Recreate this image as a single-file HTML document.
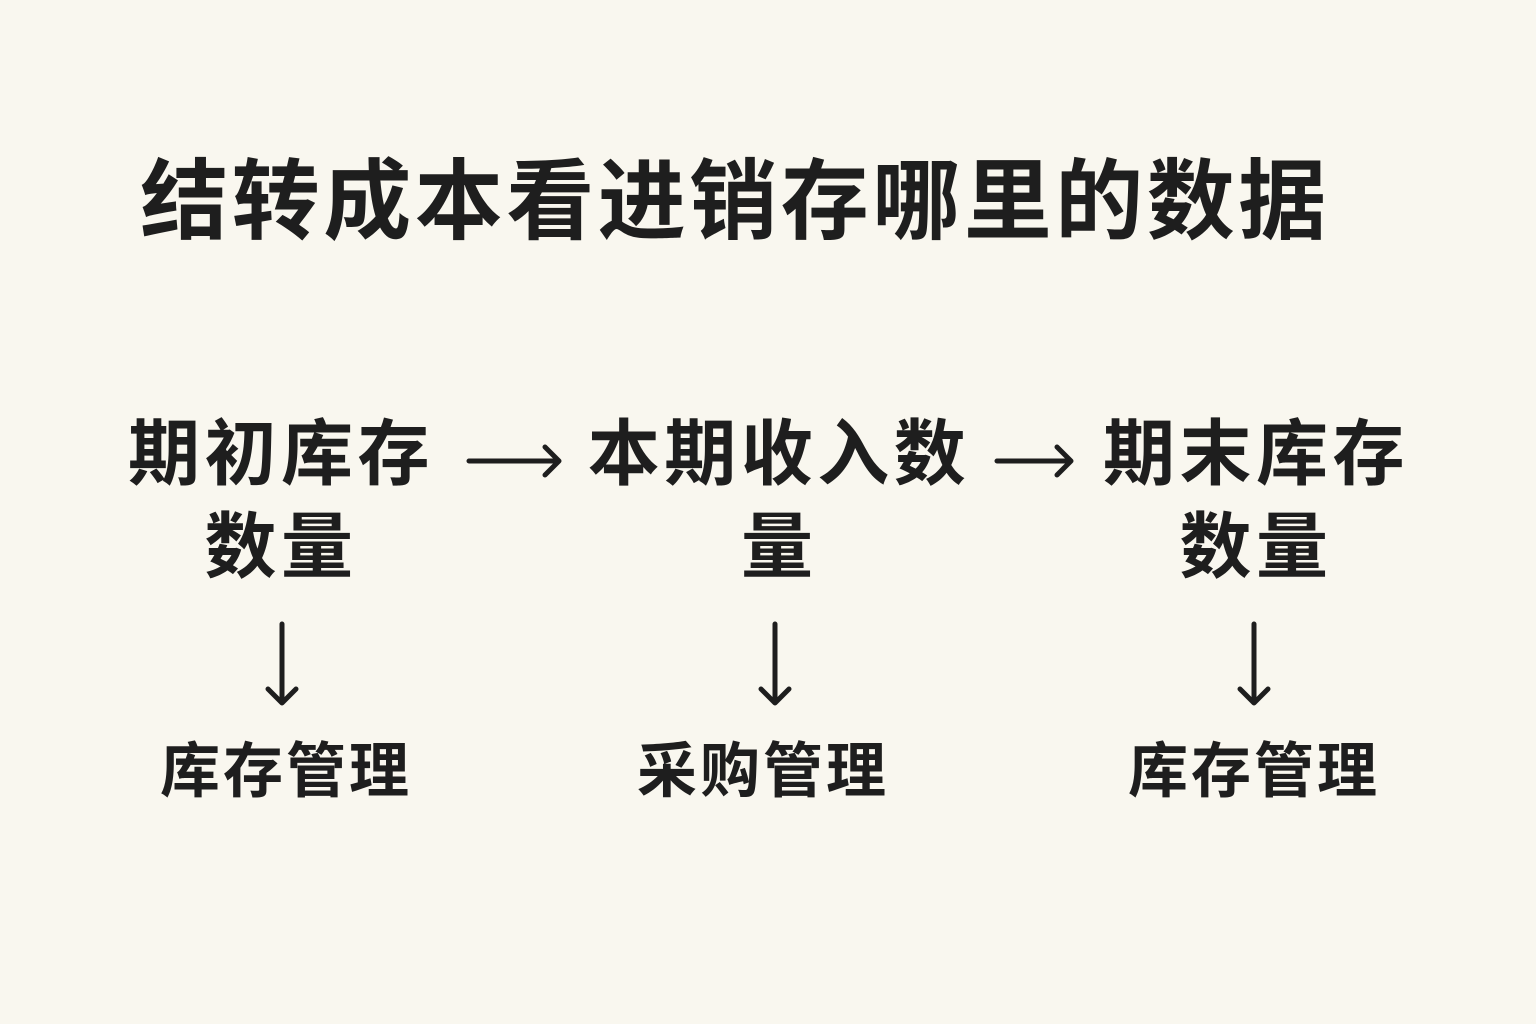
<!DOCTYPE html>
<html><head><meta charset="utf-8"><style>
body{margin:0;width:1536px;height:1024px;background:#f9f7ef;position:relative;overflow:hidden;font-family:"Liberation Sans","Noto Sans CJK SC",sans-serif;color:#1e1e1e}
.t{position:absolute;white-space:nowrap;transform:translate(-50%,-50%);line-height:1}
</style></head><body>
<div class="t" style="left:735px;top:202px;font-size:88px;font-weight:bold;letter-spacing:3.5px">结转成本看进销存哪里的数据</div>
<div class="t" style="left:281px;top:455px;font-size:72px;font-weight:bold;letter-spacing:4.5px">期初库存</div>
<div class="t" style="left:281px;top:548px;font-size:72px;font-weight:bold;letter-spacing:4.5px">数量</div>
<div class="t" style="left:779px;top:455px;font-size:72px;font-weight:bold;letter-spacing:4.5px">本期收入数</div>
<div class="t" style="left:777px;top:548px;font-size:72px;font-weight:bold">量</div>
<div class="t" style="left:1256px;top:455px;font-size:72px;font-weight:bold;letter-spacing:4.5px">期末库存</div>
<div class="t" style="left:1256px;top:548px;font-size:72px;font-weight:bold;letter-spacing:4.5px">数量</div>
<div class="t" style="left:286px;top:772px;font-size:60px;font-weight:bold;letter-spacing:3px">库存管理</div>
<div class="t" style="left:763px;top:772px;font-size:60px;font-weight:bold;letter-spacing:3px">采购管理</div>
<div class="t" style="left:1254px;top:772px;font-size:60px;font-weight:bold;letter-spacing:3px">库存管理</div>
<svg width="1536" height="1024" style="position:absolute;left:0;top:0" fill="none" stroke="#1e1e1e" stroke-width="5" stroke-linecap="round" stroke-linejoin="round">
<path d="M469 461H558M545 447L559 461L545 475"/>
<path d="M997 461H1070M1057 447L1071 461L1057 475"/>
<path d="M282 624V702M268 689L282 703L296 689"/>
<path d="M775 624V702M761 689L775 703L789 689"/>
<path d="M1254 624V702M1240 689L1254 703L1268 689"/>
</svg>
</body></html>
